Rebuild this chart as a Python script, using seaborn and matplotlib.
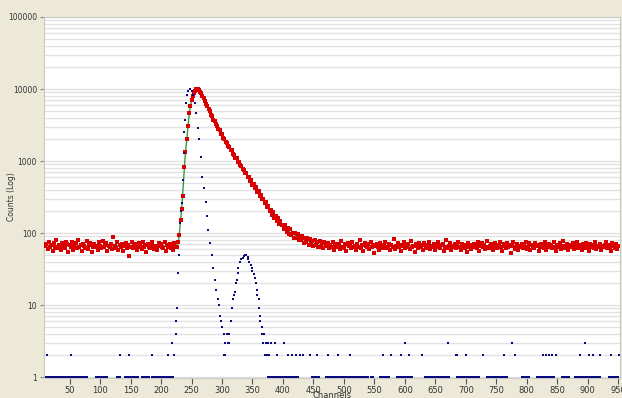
import numpy as np
import pandas as pd
import seaborn as sns
import matplotlib.pyplot as plt
from matplotlib.ticker import FixedLocator, NullFormatter

# red: measured counts, every 2nd channel from 10 to 950
red_left = [
    66, 71, 60, 74, 63, 68, 57, 72, 65, 79, 61, 69, 64, 58, 73, 67, 62, 76, 70, 55,
    68, 63, 75, 59, 66, 72, 61, 80, 64, 69, 57, 71, 66, 62, 77, 60, 68, 73, 54, 65,
    70, 63, 67, 58, 74, 66, 61, 78, 64, 69, 72, 56, 67, 63, 71, 60, 88, 66, 62, 75,
    59, 68, 64, 71, 57, 66, 73, 62, 69, 48, 65, 74, 61, 67, 70, 58, 64, 72, 66, 60,
    76, 63, 68, 55, 71, 65, 62, 69, 74, 60, 67, 64, 58, 72, 66, 70, 63, 61, 75, 57,
    68, 65, 71, 62, 66, 59, 73, 64,
]
red_peak = [
    64, 74, 95, 150, 215, 330, 820, 1350, 2000, 3100, 4600, 5800, 7000, 7900,
    8800, 9400, 9900, 10100, 9600, 9100, 8700, 7900, 7500,
]
red_tail = [
    6900, 6200, 5800, 5200, 4900, 4400, 4200, 3700, 3600, 3250,
    3100, 2800, 2700, 2400, 2350, 2100, 2050, 1830, 1800, 1620,
    1590, 1420, 1400, 1250, 1230, 1100, 1090, 970, 980, 880,
    860, 770, 760, 680, 690, 600, 600, 530, 545, 470,
    480, 420, 430, 375, 385, 330, 340, 295, 300, 258,
    270, 228, 236, 200, 212, 180, 195, 160, 175, 146,
    160, 134, 148, 128, 131, 113, 128, 104, 118, 97,
    112, 94, 101, 86, 100, 84, 96, 79, 92, 80,
    90, 73, 86, 76, 84, 69, 83, 72, 78, 66,
    79, 68, 74, 63, 77, 65, 72, 61, 75, 66,
]
red_right = [
    67, 72, 61, 69, 64, 75, 58, 66, 71, 63, 68, 60, 77, 65, 62, 70, 56, 73, 66, 69,
    61, 74, 64, 67, 59, 71, 65, 80, 62, 68, 57, 72, 66, 63, 70, 60, 75, 64, 69, 52,
    66, 71, 63, 58, 73, 67, 61, 69, 76, 62, 65, 70, 59, 68, 64, 82, 60, 67, 72, 63,
    69, 57, 66, 74, 62, 68, 65, 71, 60, 77, 63, 67, 55, 70, 66, 61, 73, 64, 68, 59,
    72, 65, 62, 69, 75, 60, 67, 63, 71, 58, 66, 74, 64, 61, 68, 70, 57, 65, 79, 62,
    67, 73, 59, 66, 63, 70, 61, 68, 76, 64, 58, 71, 66, 62, 69, 54, 73, 65, 60, 68,
    64, 70, 67, 61, 74, 56, 66, 72, 63, 69, 60, 78, 65, 62, 67, 71, 59, 64, 73, 66,
    61, 68, 75, 63, 57, 70, 66, 62, 72, 65, 69, 53, 67, 74, 60, 64, 71, 58, 66, 63,
    70, 62, 67, 76, 60, 65, 72, 58, 68, 64, 61, 73, 66, 69, 56, 63, 71, 67, 62, 75,
    59, 66, 70, 63, 68, 61, 74, 65, 57, 69, 64, 72, 60, 67, 78, 62, 66, 71, 58, 65,
    68, 63, 72, 60, 66, 75, 62, 69, 64, 58, 71, 67, 61, 73, 65, 56, 70, 63, 68, 62,
    74, 60, 67, 65, 71, 59, 66, 63, 69, 76, 61, 68, 64, 57, 72, 66, 62, 70, 60, 67,
]
red_counts = red_left + red_peak + red_tail + red_right
red_channels = list(range(10, 10 + 2 * len(red_counts), 2))

# green: fitted curve
fit_channels = [8, 224, 227, 229, 231, 233, 235, 237, 239, 241, 243, 245, 247, 250,
                253, 256, 259, 262, 266, 270, 280, 290, 300, 310, 320, 330, 340,
                350, 360, 370, 380, 390, 400, 410, 420, 430, 440, 450, 465, 480,
                500, 953]
fit_counts = [66, 66, 70, 80, 120, 180, 290, 540, 1000, 1570, 2300, 3600, 5000,
              6900, 8300, 9300, 9800, 9600, 8600, 7300, 4800, 3300, 2300, 1650,
              1200, 900, 660, 490, 370, 270, 200, 155, 125, 105, 92, 83, 77, 73,
              69, 67, 66, 66]

# blue: second measurement, peak region
blue_channels = [222, 224, 225, 226, 228, 229, 231, 233, 235, 236, 237, 238, 240,
                 241, 243, 245, 248, 250, 252, 255, 258, 260, 262, 265, 268, 270,
                 273, 275, 277, 280, 283, 285, 288, 290, 293, 295, 297, 298, 300,
                 303, 305, 308, 310, 312, 314, 316, 318, 320, 321, 323, 324, 326,
                 327, 329, 331, 334, 336, 337, 339, 340, 342, 343, 345, 347, 349,
                 350, 352, 354, 355, 357, 358, 360, 361, 362, 363, 365, 366, 367,
                 369, 372, 374]
blue_counts = [2, 4, 6, 9, 28, 50, 137, 200, 260, 540, 1300, 2500, 3700, 6400,
               8200, 9500, 10000, 9500, 8200, 6400, 4600, 2900, 2000, 1140, 600,
               420, 270, 170, 110, 73, 50, 33, 22, 16, 12, 10, 7, 6, 5, 4, 3, 4,
               3, 4, 6, 9, 12, 14, 15, 20, 22, 28, 33, 40, 43, 45, 48, 49, 50, 49,
               47, 43, 40, 36, 33, 30, 27, 24, 20, 16, 14, 12, 9, 7, 6, 5, 4, 3,
               4, 3, 2]
# blue background: channels holding 1, 2 or 3 counts
blue_ones = [12, 15, 18, 21, 24, 27, 30, 33, 36, 39, 42, 45, 48, 51, 54, 57, 60,
             63, 66, 69, 72, 75, 78, 94, 97, 100, 103, 106, 109, 112, 127, 130,
             133, 141, 144, 147, 150, 153, 156, 159, 162, 168, 171, 174, 177, 180,
             186, 189, 192, 195, 198, 201, 204, 207, 210, 213, 216, 219,
             376, 379, 382, 385, 388, 392, 395, 398, 401, 404, 407, 410, 413, 416,
             419, 422, 425, 447, 450, 453, 456, 459, 471, 474, 477, 480, 483, 486,
             489, 492, 495, 498, 501, 504, 507, 510, 513, 516, 519, 522, 525, 528,
             531, 534, 537, 540, 545, 548, 559, 562, 565, 568, 571, 574, 587, 590,
             593, 596, 599, 602, 605, 608, 611, 633, 636, 639, 642, 645, 648, 651,
             654, 657, 660, 663, 666, 669, 672, 686, 689, 692, 695, 698, 701, 704,
             707, 710, 713, 716, 719, 722, 735, 738, 741, 744, 747, 750, 753, 756,
             759, 762, 765, 768, 792, 795, 798, 801, 804, 817, 820, 823, 826, 829,
             832, 835, 838, 841, 844, 858, 861, 864, 867, 870, 879, 882, 885, 888,
             891, 894, 897, 900, 903, 906, 909, 912, 915, 918, 921, 935, 938, 941,
             944, 947, 950]
blue_twos = [13, 52, 133, 148, 185, 212, 303, 305, 371, 377, 390, 408, 415, 422,
             428, 433, 445, 456, 474, 491, 510, 564, 577, 594, 607, 628, 684, 686,
             700, 728, 763, 781, 827, 832, 837, 842, 848, 888, 902, 909, 920, 938,
             951]
blue_threes = [218, 312, 376, 381, 387, 402, 600, 671, 776, 896]

x_ticks = list(range(50, 951, 50))
x_grid = [100, 150, 250, 300, 400, 450, 500, 600, 650, 700, 750, 800, 850, 900, 950]
y_ticks = [1, 10, 100, 1000, 10000, 100000]
y_labels = ["1", "10", "100", "1000", "10000", "100000"]

red_df = pd.DataFrame({"channel": red_channels, "count": red_counts})
fit_df = pd.DataFrame({"channel": fit_channels, "count": fit_counts})
blue_df = pd.concat([
    pd.DataFrame({"channel": blue_channels, "count": blue_counts}),
    pd.DataFrame({"channel": blue_ones, "count": 1}),
    pd.DataFrame({"channel": blue_twos, "count": 2}),
    pd.DataFrame({"channel": blue_threes, "count": 3}),
])

sns.set_style("white")
plt.rcParams["font.family"] = ["DejaVu Sans"]
bg = "#ece9d8"
fig = plt.figure(figsize=(6.22, 3.98), dpi=100, facecolor=bg)
ax = fig.add_axes([44 / 622, 1 - 378 / 398, 576 / 622, 361 / 398])
ax.set_facecolor("white")

ax.set_yscale("log")
ax.set_xlim(8, 953)
ax.set_ylim(0.97, 100000)

# grid
ax.xaxis.set_minor_locator(FixedLocator(x_grid))
ax.grid(which="minor", axis="x", color="#e2e2e2", lw=1)
ax.grid(which="both", axis="y", color="#e2e2e2", lw=1)
ax.set_axisbelow(True)

sns.lineplot(data=fit_df, x="channel", y="count", color="#3a9a3a", lw=1.0,
             ax=ax, zorder=2)
sns.scatterplot(data=red_df, x="channel", y="count", color="#d80000", marker="s",
                s=6.5, linewidth=0, ax=ax, zorder=3)
sns.scatterplot(data=blue_df, x="channel", y="count", color="#0a0a80", marker="s",
                s=3.5, linewidth=0, ax=ax, zorder=3, clip_on=False)

ax.set_xticks(x_ticks)
ax.set_xticklabels([str(v) for v in x_ticks])
ax.set_yticks(y_ticks)
ax.set_yticklabels(y_labels)
ax.yaxis.set_minor_formatter(NullFormatter())
ax.tick_params(axis="x", which="major", length=4, width=0.8, color="#555555",
               labelsize=6, labelcolor="#333333", pad=2, bottom=True)
ax.tick_params(axis="x", which="minor", length=0)
ax.tick_params(axis="y", which="major", length=3, width=0.8, color="#888888",
               labelsize=5.5, labelcolor="#333333", pad=2, left=True)
ax.tick_params(axis="y", which="minor", length=0)
ax.set_xlabel("")
ax.set_ylabel("")
for sp in ax.spines.values():
    sp.set_color("#c8c8c8")
    sp.set_linewidth(0.8)

fig.text(12 / 622, 0.505, "Counts (Log)", rotation=90, ha="center", va="center",
         fontsize=5.5, color="#333333")
fig.text(332 / 622, 1 - 391 / 398, "Channels", ha="center", va="top",
         fontsize=6, color="#333333")

fig.savefig("out.png", dpi=100, facecolor=bg)
